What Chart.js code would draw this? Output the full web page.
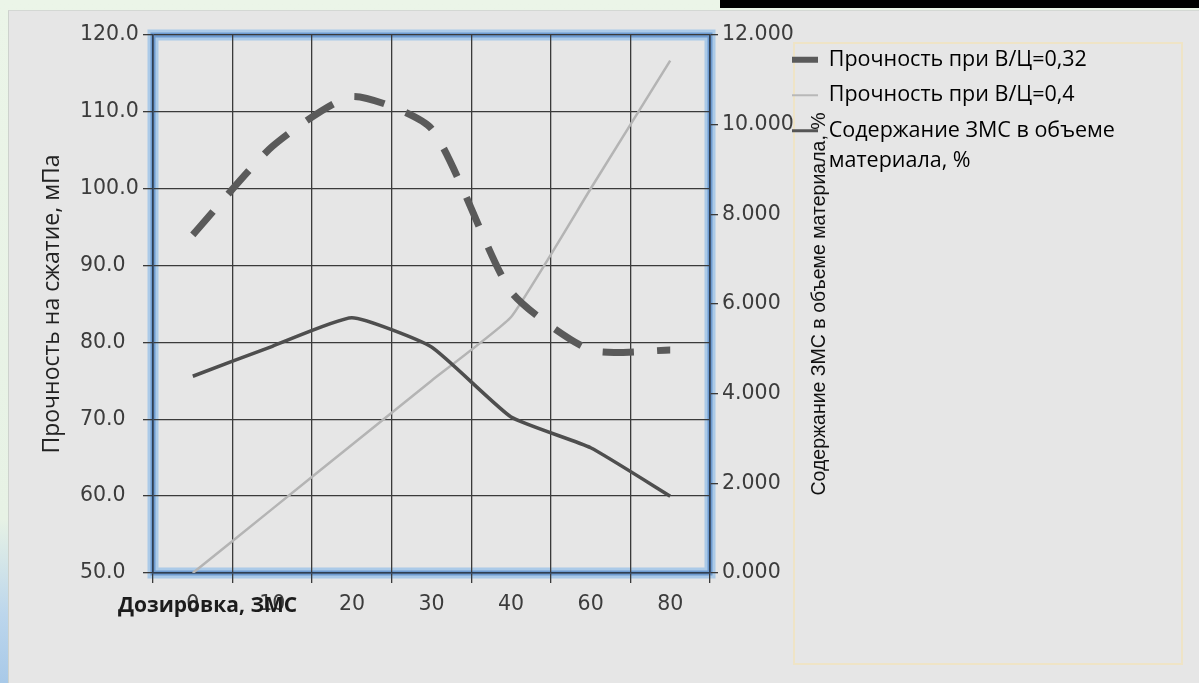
<!DOCTYPE html>
<html lang="ru">
<head>
<meta charset="utf-8">
<title>Прочность на сжатие и содержание ЗМС</title>
<script src="https://cdn.jsdelivr.net/npm/chart.js@4.4.1/dist/chart.umd.min.js"></script>
<style>
  html, body { margin: 0; padding: 0; width: 1199px; height: 683px; overflow: hidden; }
  body {
    position: relative;
    background: linear-gradient(to bottom, #ebf5e8 0%, #e7f2e5 76%, #bcd6ec 90%, #a8c9e8 100%);
  }
  #topbar { position: absolute; left: 720px; top: 0; width: 479px; height: 8px; background: #000; }
  #panel {
    position: absolute; left: 8px; top: 10px; width: 1191px; height: 673px;
    background: #e6e6e6; box-sizing: border-box;
    border-left: 1px solid #cdd2cd; border-top: 1px solid #d4d8d4;
  }
  #legendFrame {
    position: absolute; left: 793px; top: 42px; width: 390px; height: 623px;
    box-sizing: border-box; border: 2px solid #efe4c6;
  }
  #wrap { position: absolute; left: 8px; top: 10px; width: 1191px; height: 673px; }
</style>
</head>
<body>
<div id="topbar"></div>
<div id="panel"></div>
<div id="legendFrame"></div>
<div id="wrap"><canvas id="chart" width="1191" height="673"></canvas></div>
<script>
// Дозировка ЗМС (категории оси X)
const dosage = ['0', '10', '20', '30', '40', '60', '80'];

// Прочность на сжатие, мПа
const strength032 = [94.0, 105.5, 112.0, 107.8, 86.6, 79.0, 79.0];
const strength04 = [75.6, 79.5, 83.2, 79.4, 70.3, 66.3, 60.0];

// Содержание ЗМС в объеме материала, %
const zmsContent = [0.00, 1.43, 2.86, 4.29, 5.71, 8.57, 11.43];

const seriesNames = [
  'Прочность при В/Ц=0,32',
  'Прочность при В/Ц=0,4',
  'Содержание ЗМС в объеме материала, %'
];

const strengthTitle = 'Прочность на сжатие, мПа';
const contentTitle = 'Содержание ЗМС в объеме материала, %';
const dosageTitle = 'Дозировка, ЗМС';

// Образцы линий в легенде
const legendSwatches = [
  { color: '#5a5a5a', width: 6 },
  { color: '#b8b8b8', width: 2 },
  { color: '#555555', width: 3 }
];

// Раскладка: правая граница области построения и ширина правой оси
const PLOT_RIGHT = 702;
const RIGHT_AXIS_WIDTH = 86;
const LEGEND_OFFSET = 68;   // от области построения до рамки легенды

const tickFont = { family: '"DejaVu Sans"', size: 20.5 };
const tickColor = '#3c3c3c';
const gridColor = '#3a3a3a';
const axisLine = '#2f3f52';

function wrapWords(text, maxChars) {
  const words = text.split(' ');
  const lines = [];
  let line = '';
  for (const w of words) {
    const next = line ? line + ' ' + w : w;
    if (next.length > maxChars && line) { lines.push(line); line = w; }
    else line = next;
  }
  if (line) lines.push(line);
  return lines.length > 1 ? lines : lines[0];
}

// Синяя рамка области построения
const plotFrame = {
  id: 'plotFrame',
  beforeDraw(chart) {
    const { ctx, chartArea: a } = chart;
    ctx.save();
    ctx.strokeStyle = 'rgba(160,196,232,0.85)';
    ctx.lineWidth = 11;
    ctx.strokeRect(a.left, a.top, a.width, a.height);
    ctx.strokeStyle = '#6e9bd0';
    ctx.lineWidth = 5;
    ctx.strokeRect(a.left, a.top, a.width, a.height);
    ctx.restore();
  }
};

// Легенда заходит на поле правой оси
const legendShift = {
  id: 'legendShift',
  afterLayout(chart) {
    const lg = chart.legend;
    if (!lg) return;
    const target = chart.chartArea.right + LEGEND_OFFSET;
    const dx = lg.left - target;
    lg.left -= dx;
    lg.right -= dx;
  }
};

// Подписи оси X и правой оси
const axisCaptions = {
  id: 'axisCaptions',
  afterDraw(chart) {
    const { ctx, chartArea, scales } = chart;
    ctx.save();
    ctx.fillStyle = '#1c1c1c';
    ctx.textBaseline = 'middle';
    ctx.textAlign = 'left';
    ctx.font = 'bold 21px "Open Sans"';
    ctx.fillText(dosageTitle, chartArea.left - 35, scales.x.top + 33);

    const rs = scales.yContent;
    ctx.translate(rs.left + 110, (chartArea.top + chartArea.bottom) / 2);
    ctx.rotate(-Math.PI / 2);
    ctx.textAlign = 'center';
    ctx.font = '19.5px "Liberation Sans"';
    ctx.fillStyle = '#111';
    ctx.fillText(contentTitle, 0, 0);
    ctx.restore();
  }
};

const chart = new Chart(document.getElementById('chart'), {
  type: 'line',
  data: {
    labels: dosage,
    datasets: [
      {
        label: seriesNames[0],
        data: strength032,
        yAxisID: 'yStrength',
        borderColor: '#5a5a5a',
        borderWidth: 7,
        borderDash: [31, 23],
        borderCapStyle: 'butt',
        tension: 0.2,
        pointRadius: 0,
        fill: false
      },
      {
        label: seriesNames[1],
        data: strength04,
        yAxisID: 'yStrength',
        borderColor: '#4e4e4e',
        borderWidth: 3.5,
        tension: 0.15,
        pointRadius: 0,
        fill: false
      },
      {
        label: seriesNames[2],
        data: zmsContent,
        yAxisID: 'yContent',
        borderColor: '#b4b4b4',
        borderWidth: 2.5,
        tension: 0.12,
        pointRadius: 0,
        fill: false
      }
    ]
  },
  options: {
    responsive: false,
    animation: false,
    devicePixelRatio: 1,
    layout: { padding: { left: 72, top: 25, right: 30, bottom: 0 } },
    plugins: {
      tooltip: { enabled: false },
      legend: {
        position: 'right',
        align: 'start',
        maxWidth: 440,
        labels: {
          usePointStyle: true,
          pointStyleWidth: 26,
          boxHeight: 21,
          padding: 14,
          color: '#1e1e1e',
          font: { family: '"Open Sans"', size: 21.5, lineHeight: 1.4 },
          generateLabels(chart) {
            return chart.data.datasets.map((ds, i) => ({
              text: wrapWords(ds.label, 24),
              datasetIndex: i,
              pointStyle: 'line',
              strokeStyle: legendSwatches[i].color,
              fillStyle: legendSwatches[i].color,
              lineWidth: legendSwatches[i].width,
              lineDash: [],
              hidden: false
            }));
          }
        }
      }
    },
    scales: {
      x: {
        type: 'category',
        offset: true,
        afterFit(s) { s.height = 110; },
        grid: {
          offset: true,
          color: gridColor,
          lineWidth: 1.3,
          tickLength: 10
        },
        border: { display: true, color: axisLine, width: 1.6 },
        ticks: {
          font: tickFont,
          color: tickColor,
          padding: 9,
          maxRotation: 0,
          autoSkip: false
        }
      },
      yStrength: {
        type: 'linear',
        position: 'left',
        min: 50,
        max: 120,
        afterFit(s) { s.width = 73; },
        ticks: {
          stepSize: 10,
          crossAlign: 'far',
          padding: 3,
          font: tickFont,
          color: tickColor,
          callback: v => Number(v).toFixed(1)
        },
        grid: { color: gridColor, lineWidth: 1.3, tickLength: 10 },
        border: { display: true, color: axisLine, width: 1.6 },
        title: {
          display: true,
          text: strengthTitle,
          color: '#222',
          font: { family: '"Open Sans"', size: 23 },
          padding: { top: -41, bottom: 0 }
        }
      },
      yContent: {
        type: 'linear',
        position: 'right',
        min: 0,
        max: 12,
        afterFit(s) { s.width = RIGHT_AXIS_WIDTH; },
        ticks: {
          stepSize: 2,
          padding: 4,
          font: tickFont,
          color: tickColor,
          callback: v => Number(v).toFixed(3)
        },
        grid: { drawOnChartArea: false, color: gridColor, lineWidth: 1.3, tickLength: 8 },
        border: { display: true, color: axisLine, width: 1.6 }
      }
    }
  },
  plugins: [plotFrame, legendShift, axisCaptions]
});

// Подбор правого отступа так, чтобы область построения кончалась на PLOT_RIGHT
chart.options.layout.padding.right =
  chart.width - PLOT_RIGHT - RIGHT_AXIS_WIDTH - chart.legend.width;
chart.update();
</script>
</body>
</html>
